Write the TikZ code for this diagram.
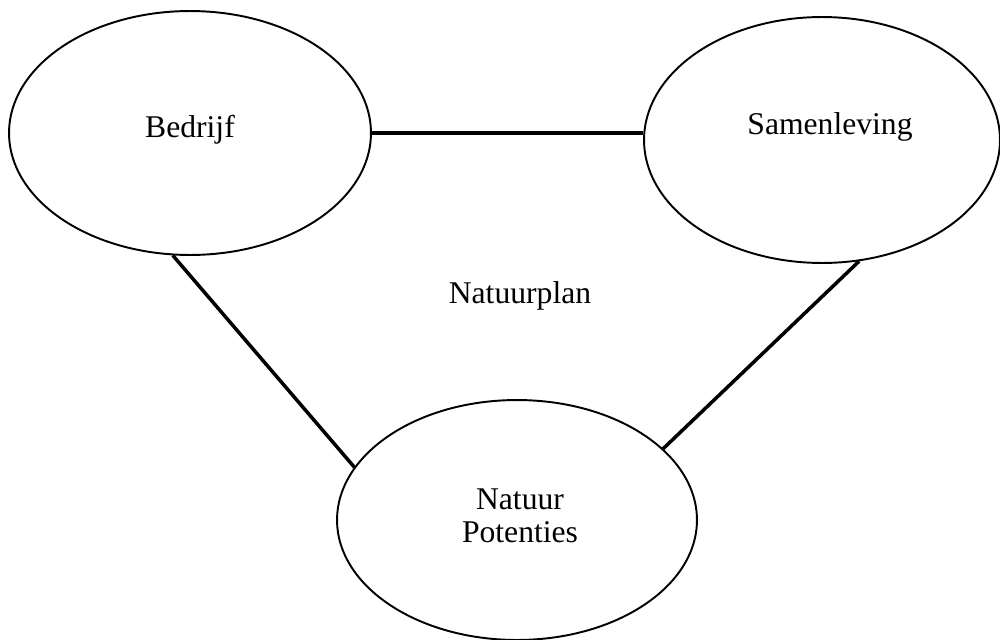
\documentclass[tikz,border=0pt]{standalone}
\usepackage{fontspec}
\setmainfont{Liberation Serif}
\usetikzlibrary{shapes.geometric}
\begin{document}
\begin{tikzpicture}[x=0.02cm,y=-0.02cm,
  blob/.style={draw, ellipse, line width=1.1pt, inner sep=0pt},
  link/.style={line width=2pt},
  lbl/.style={font=\fontsize{18}{19}\selectfont, align=center, inner sep=0pt}]
\useasboundingbox (0,0) rectangle (1000,639);
\node[blob, minimum width=7.24cm, minimum height=4.88cm] (bed) at (190,133) {};
\node[blob, minimum width=7.12cm, minimum height=4.92cm] (sam) at (822,140) {};
\node[blob, minimum width=7.2cm, minimum height=4.8cm] (nat) at (517,520) {};
\node[lbl] (bedT) at (190,130) {Bedrijf};
\node[lbl] (samT) at (830,127) {Samenleving};
\node[lbl] (natT) at (520,516) {Natuur\\Potenties};
\node[lbl] (plan) at (520,296) {Natuurplan};
\draw[link] (bed.east) -- (bed.east -| sam.west);
\draw[link] (bed.-98.4) -- (nat.162.6);
\draw[link] (sam.-73.6) -- (nat.26.1);
\end{tikzpicture}
\end{document}
